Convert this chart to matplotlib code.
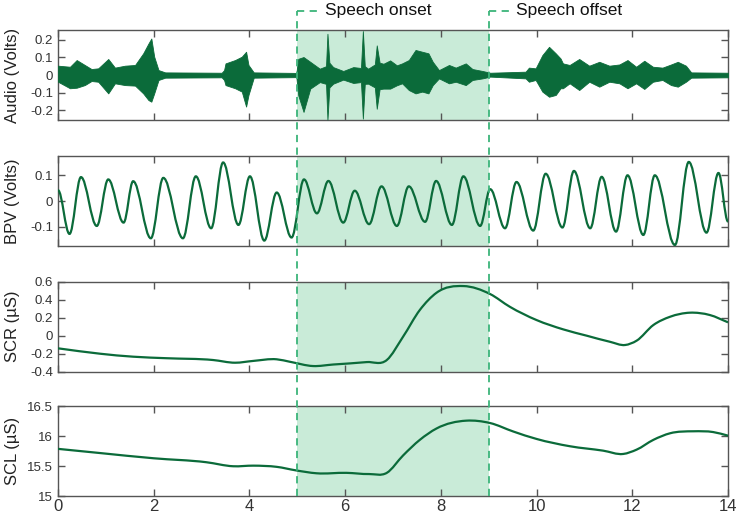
import matplotlib
matplotlib.use('Agg')
import matplotlib.pyplot as plt
import matplotlib.transforms as mtransforms
from matplotlib.path import Path
from matplotlib.patches import PathPatch
from matplotlib.lines import Line2D
from matplotlib.ticker import FuncFormatter
import numpy as np

plt.rcParams['font.family'] = ['Liberation Sans', 'DejaVu Sans']
plt.rcParams['axes.unicode_minus'] = False

# Audio envelope (time s, upper V, lower V)
audio_t = [0.00, 0.25, 0.39, 0.56, 0.70, 0.84, 1.05, 1.19, 1.40, 1.61, 1.78, 1.89, 1.95, 2.01,
           2.10, 2.24, 3.42, 3.47, 3.50, 3.70, 3.84, 3.93, 3.98, 4.09, 4.98,
           5.02, 5.13, 5.27, 5.47, 5.60, 5.63, 5.67, 5.75, 5.96, 6.17, 6.33, 6.37, 6.41,
           6.48, 6.62, 6.66, 6.72, 6.80, 6.94, 7.08, 7.19, 7.33, 7.47, 7.61, 7.74, 7.83,
           7.96, 8.17, 8.31, 8.52, 8.66, 8.87, 9.03, 9.77, 9.84, 9.98, 10.12, 10.26, 10.40,
           10.50, 10.55, 10.69, 10.89, 11.10, 11.31, 11.52, 11.73, 11.90, 12.08, 12.25,
           12.43, 12.63, 12.81, 12.95, 13.12, 13.23, 14.00]
audio_up = [0.053, 0.047, 0.085, 0.057, 0.034, 0.038, 0.091, 0.042, 0.053, 0.057, 0.123, 0.179, 0.207, 0.104,
            0.028, 0.015, 0.013, 0.028, 0.066, 0.085, 0.104, 0.132, 0.057, 0.015, 0.012,
            0.092, 0.102, 0.075, 0.036, 0.050, 0.234, 0.070, 0.045, 0.023, 0.045, 0.040, 0.249, 0.050,
            0.036, 0.060, 0.168, 0.070, 0.064, 0.083, 0.055, 0.066, 0.085, 0.142, 0.132, 0.123, 0.075,
            0.028, 0.057, 0.042, 0.066, 0.034, 0.023, 0.013, 0.019, 0.042, 0.038, 0.113, 0.160, 0.123,
            0.094, 0.066, 0.057, 0.091, 0.053, 0.075, 0.053, 0.060, 0.085, 0.047, 0.081,
            0.047, 0.042, 0.060, 0.075, 0.053, 0.015, 0.013]
audio_lo = [-0.038, -0.075, -0.072, -0.057, -0.034, -0.038, -0.104, -0.047, -0.057, -0.060, -0.104, -0.142, -0.151, -0.104,
            -0.028, -0.015, -0.013, -0.028, -0.057, -0.075, -0.094, -0.179, -0.113, -0.015, -0.012,
            -0.115, -0.209, -0.077, -0.040, -0.050, -0.253, -0.070, -0.049, -0.026, -0.045, -0.040, -0.247, -0.050,
            -0.049, -0.070, -0.191, -0.080, -0.077, -0.077, -0.058, -0.047, -0.085, -0.104, -0.094, -0.104, -0.057,
            -0.019, -0.047, -0.038, -0.057, -0.028, -0.019, -0.009, -0.019, -0.038, -0.028, -0.094, -0.123, -0.113,
            -0.075, -0.075, -0.047, -0.085, -0.038, -0.066, -0.038, -0.047, -0.075, -0.047, -0.079,
            -0.038, -0.028, -0.057, -0.066, -0.038, -0.015, -0.013]

# BPV peaks and troughs
bpv_t = [0.00, 0.24, 0.48, 0.81, 1.05, 1.37, 1.57, 1.94, 2.20, 2.61, 2.88, 3.20, 3.45, 3.77,
         4.01, 4.31, 4.57, 4.88, 5.14, 5.41, 5.65, 5.96, 6.20, 6.50, 6.76, 7.08, 7.33, 7.67,
         7.90, 8.23, 8.47, 8.82, 9.03, 9.34, 9.58, 9.93, 10.19, 10.54, 10.78, 11.12, 11.36,
         11.66, 11.90, 12.23, 12.47, 12.89, 13.18, 13.55, 13.80, 14.00]
bpv_v = [0.042, -0.128, 0.093, -0.097, 0.084, -0.084, 0.077, -0.145, 0.090, -0.145, 0.096, -0.106, 0.150, -0.093,
         0.096, -0.154, 0.033, -0.142, 0.084, -0.048, 0.078, -0.084, 0.040, -0.090, 0.057, -0.097, 0.057, -0.081,
         0.078, -0.093, 0.096, -0.097, 0.046, -0.106, 0.074, -0.115, 0.106, -0.103, 0.117, -0.106, 0.094,
         -0.119, 0.100, -0.132, 0.100, -0.171, 0.152, -0.123, 0.109, -0.080]

# Skin conductance response
scr_t = [0.00, 0.88, 1.57, 2.27, 3.24, 3.70, 4.08, 4.57, 4.85, 5.33, 5.75, 6.45, 6.87, 7.21, 7.56,
         7.91, 8.47, 9.03, 9.44, 10.00, 10.56, 11.05, 11.53, 11.85, 12.09, 12.44, 12.79, 13.20, 13.62, 14.00]
scr_v = [-0.14, -0.20, -0.233, -0.25, -0.27, -0.30, -0.28, -0.262, -0.29, -0.337, -0.32, -0.293, -0.27, -0.011, 0.286,
         0.478, 0.552, 0.463, 0.322, 0.174, 0.07, 0.0, -0.067, -0.103, -0.055, 0.119, 0.211, 0.256, 0.23, 0.149]

# Skin conductance level
scl_t = [0.00, 0.88, 2.00, 3.10, 3.66, 4.08, 4.57, 4.98, 5.40, 6.03, 6.50, 6.87, 7.21, 7.56, 7.91,
         8.53, 9.03, 9.51, 10.00, 10.70, 11.39, 11.81, 12.09, 12.44, 12.79, 13.28, 13.69, 14.00]
scl_v = [15.79, 15.72, 15.633, 15.567, 15.50, 15.51, 15.49, 15.43, 15.383, 15.39, 15.37, 15.39, 15.68, 15.94, 16.13,
         16.26, 16.22, 16.08, 15.955, 15.833, 15.76, 15.705, 15.777, 15.94, 16.05, 16.083, 16.07, 16.01]

line_c = '#0b6b3a'
shade_c = '#c9ebd8'
dash_c = '#3bb47a'


def smooth_line(ax, x, y, flat=False):
    x = np.asarray(x, float)
    y = np.asarray(y, float)
    if flat:
        m = np.zeros_like(y)
        k = 0.3634
    else:
        m = np.gradient(y, x)
        k = 1 / 3
    verts = [(x[0], y[0])]
    codes = [Path.MOVETO]
    for i in range(len(x) - 1):
        dx = x[i + 1] - x[i]
        verts += [(x[i] + k * dx, y[i] + m[i] * k * dx),
                  (x[i + 1] - k * dx, y[i + 1] - m[i + 1] * k * dx),
                  (x[i + 1], y[i + 1])]
        codes += [Path.CURVE4] * 3
    ax.add_patch(PathPatch(Path(verts, codes), fill=False, edgecolor=line_c, lw=1.6, zorder=3))


fig = plt.figure(figsize=(7.38, 5.18), dpi=100)
left, width, h = 0.0786, 0.9079, 0.1737
bottoms = [0.7683, 0.5251, 0.2824, 0.0420]
axes = [fig.add_axes([left, b, width, h]) for b in bottoms]

fmt = FuncFormatter(lambda v, p: '%g' % round(v, 3))

for ax in axes:
    ax.axvspan(5, 9, color=shade_c, zorder=0, lw=0)
    ax.set_xlim(0, 14)
    ax.set_xticks(range(0, 15, 2))
    ax.tick_params(direction='in', top=True, right=True, length=5, width=1, color='#555555',
                   labelsize=9.5, labelcolor='#333333')
    ax.yaxis.set_major_formatter(fmt)
    for s in ax.spines.values():
        s.set_color('#555555')
        s.set_linewidth(1)
    ax.yaxis.set_label_coords(-0.056, 0.5)

ax1, ax2, ax3, ax4 = axes

ax1.fill_between(audio_t, audio_lo, audio_up, color=line_c, lw=0.6, zorder=3)
ax1.set_ylim(-0.255, 0.255)
ax1.set_yticks([-0.2, -0.1, 0, 0.1, 0.2])
ax1.set_ylabel('Audio (Volts)', fontsize=12, color='#222222')

smooth_line(ax2, bpv_t, bpv_v, flat=True)
ax2.set_ylim(-0.175, 0.175)
ax2.set_yticks([-0.1, 0, 0.1])
ax2.set_ylabel('BPV (Volts)', fontsize=12, color='#222222')

smooth_line(ax3, scr_t, scr_v)
ax3.set_ylim(-0.4, 0.6)
ax3.set_yticks([-0.4, -0.2, 0, 0.2, 0.4, 0.6])
ax3.set_ylabel('SCR (\u00b5S)', fontsize=12, color='#222222')

smooth_line(ax4, scl_t, scl_v)
ax4.set_ylim(15, 16.5)
ax4.set_yticks([15, 15.5, 16, 16.5])
ax4.set_ylabel('SCL (\u00b5S)', fontsize=12, color='#222222')

for ax in axes[:3]:
    ax.tick_params(labelbottom=False)
ax4.tick_params(axis='x', labelsize=12, pad=2)

# speech onset / offset markers spanning all panels
trans = mtransforms.blended_transform_factory(ax4.transData, fig.transFigure)
y_top = 1 - 11 / 518
y_bot = bottoms[-1]
for xv, label in [(5, 'Speech onset'), (9, 'Speech offset')]:
    fig.add_artist(Line2D([xv, xv], [y_bot, y_top], transform=trans, color=dash_c,
                          lw=1.3, ls=(0, (4, 3)), zorder=5))
    fig.add_artist(Line2D([xv, xv + 0.45], [y_top, y_top], transform=trans, color=dash_c,
                          lw=1.3, ls=(0, (4, 3)), zorder=5))
    fig.text(xv + 0.58, y_top, label, transform=trans, fontsize=12.5, va='center', ha='left',
             color='#111111')

fig.savefig('out.png', dpi=100)
